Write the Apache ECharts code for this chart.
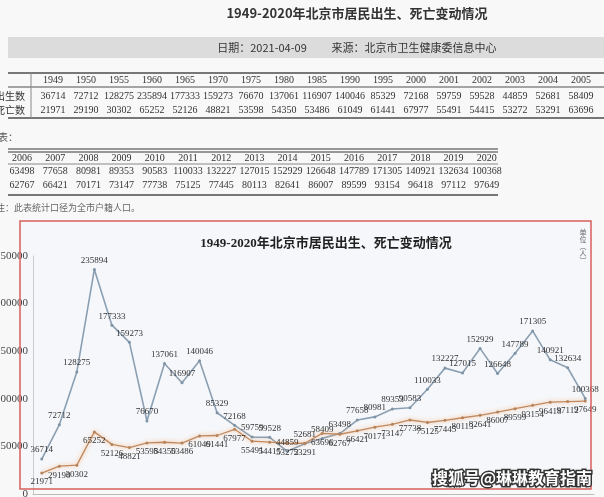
<!DOCTYPE html>
<html><head><meta charset="utf-8">
<script src="https://cdn.jsdelivr.net/npm/echarts@6/dist/echarts.min.js"></script>
<style>html,body{margin:0;padding:0;background:#f8f8f8}#c{width:604px;height:497px}</style>
</head><body><div id="c"></div>
<script>
const years = ['1949','1950','1955','1960','1965','1970','1975','1980','1985','1990','1995','2000',
  '2001','2002','2003','2004','2005','2006','2007','2008','2009','2010','2011','2012','2013','2014',
  '2015','2016','2017','2018','2019','2020'];
const births = [36714,72712,128275,235894,177333,159273,76670,137061,116907,140046,85329,72168,
  59759,59528,44859,52681,58409,63498,77658,80981,89353,90583,110033,132227,127015,152929,
  126648,147789,171305,140921,132634,100368];
const deaths = [21971,29190,30302,65252,52126,48821,53598,54350,53486,61049,61441,67977,
  55491,54415,53272,53291,63696,62767,66421,70171,73147,77738,75125,77445,80113,82641,
  86007,89599,93154,96418,97112,97649];
const yTicks = [0,50000,100000,150000,200000,250000];
const mainTitle = '1949-2020年北京市居民出生、死亡变动情况';
const dateText = '日期：2021-04-09';
const sourceText = '来源：北京市卫生健康委信息中心';
const rowLabels = ['出生数','死亡数'];
const contText = '续表：';
const noteText = '注：此表统计口径为全市户籍人口。';
const unitText = '单\n位\n︵\n人\n︶';
const watermark = '搜狐号@琳琳教育指南';
const split = 17;

const SERIF = '"Liberation Serif","Times New Roman","Noto Sans CJK SC",serif';
const SANS = '"Noto Sans CJK SC","Noto Sans",sans-serif';

function txt(text, x, y, font, fill, align, extra) {
  return Object.assign({
    type: 'text', x: x, y: y, silent: true,
    style: { text: text, font: font, fill: fill || '#333', align: align || 'center', textAlign: align || 'center',
      verticalAlign: 'middle', textVerticalAlign: 'middle' }
  }, extra || {});
}
function ln(x1, y1, x2, y2, c, w) {
  return { type: 'line', silent: true, shape: { x1, y1, x2, y2 }, style: { stroke: c || '#888', lineWidth: w || 1 } };
}

const g = [];
// header
g.push(txt(mainTitle, 357, 13, 'bold 13px ' + SANS, '#333'));
g.push({ type: 'rect', silent: true, shape: { x: 8, y: 37, width: 596, height: 21 }, style: { fill: '#dcdcdc' } });
g.push(txt(dateText, 262, 48, '11px ' + SANS, '#333'));
g.push(txt(sourceText, 414, 48, '11px ' + SANS, '#333'));
// table 1
g.push(ln(8, 73, 604, 73, '#777', 2));
g.push(ln(8, 87, 604, 87, '#888', 1.5));
g.push(ln(8, 118, 604, 118, '#777', 2));
g.push(ln(31, 73, 31, 118, '#888', 1));
g.push(txt(rowLabels[0], 25, 96, '10px ' + SANS, '#333', 'right'));
g.push(txt(rowLabels[1], 25, 110, '10px ' + SANS, '#333', 'right'));
for (let i = 0; i < split; i++) {
  const x = 53 + 33 * i;
  g.push(txt(years[i], x, 80, '10px ' + SERIF, '#333'));
  g.push(txt(String(births[i]), x, 96, '10px ' + SERIF, '#333'));
  g.push(txt(String(deaths[i]), x, 110, '10px ' + SERIF, '#333'));
}
// table 2
g.push(txt(contText, 18, 137, '10px ' + SANS, '#555', 'right'));
g.push(ln(8, 149, 498, 149, '#777', 1.5));
g.push(ln(8, 152, 498, 152, '#777', 1.5));
g.push(ln(8, 164, 498, 164, '#888', 1.2));
g.push(ln(8, 195, 498, 195, '#777', 2));
for (let i = split; i < years.length; i++) {
  const x = 22 + 33.2 * (i - split);
  g.push(txt(years[i], x, 158, '10px ' + SERIF, '#333'));
  g.push(txt(String(births[i]), x, 171, '10px ' + SERIF, '#333'));
  g.push(txt(String(deaths[i]), x, 185, '10px ' + SERIF, '#333'));
}
g.push(txt(noteText, 140, 208, '9px ' + SANS, '#666', 'right'));
// chart box
g.push({ type: 'rect', silent: true, z: -10, shape: { x: 20, y: 221, width: 571, height: 268 }, style: { fill: '#f6f7fa' } });
g.push({ type: 'rect', silent: true, z: 100, shape: { x: 20, y: 221, width: 571, height: 268 }, style: { fill: null, stroke: '#d6605c', lineWidth: 1.5 } });
g.push(txt(mainTitle, 326, 244, 'bold 13px ' + SERIF, '#222'));
g.push(txt(unitText, 583, 246, '7px ' + SANS, '#666', 'center', {}));
g.push({ type: 'text', silent: true, z: 110, x: 512, y: 478,
  style: { text: watermark, font: 'bold 16px ' + SANS, fill: '#fff', stroke: '#333', lineWidth: 3,
    align: 'center', textAlign: 'center', verticalAlign: 'middle', textVerticalAlign: 'middle' } });

const chart = echarts.init(document.getElementById('c'), null, { renderer: 'canvas' });
chart.setOption({
  animation: false,
  backgroundColor: 'transparent',
  grid: { left: 33, right: 10, top: 256, bottom: 3, containLabel: false, outerBoundsMode: 'none' },
  xAxis: {
    type: 'category', data: years, boundaryGap: true,
    axisLine: { lineStyle: { color: '#bbb' } }, axisTick: { show: false }, axisLabel: { show: false }
  },
  yAxis: {
    type: 'value', min: yTicks[0], max: yTicks[yTicks.length - 1], interval: 50000,
    axisLine: { show: true, lineStyle: { color: '#ccc' } }, axisTick: { show: false },
    splitLine: { show: false },
    axisLabel: { color: '#444', fontFamily: 'Liberation Serif', fontSize: 11, margin: 5, formatter: v => String(v) }
  },
  series: [
    {
      name: '出生数', type: 'line', data: births, symbol: 'circle', symbolSize: 3,
      itemStyle: { color: '#7d93a6' }, lineStyle: { color: '#8b9fb2', width: 1.6 },
      label: { show: true, position: 'top', distance: 3, color: '#333', fontFamily: 'Liberation Serif', fontSize: 9 }
    },
    {
      name: '死亡数', type: 'line', data: deaths, symbol: 'circle', symbolSize: 3,
      itemStyle: { color: '#b5825a' },
      lineStyle: { color: '#c08a60', width: 1.3, shadowColor: 'rgba(245,170,110,0.9)', shadowBlur: 4 },
      label: { show: true, position: 'bottom', distance: 3, color: '#333', fontFamily: 'Liberation Serif', fontSize: 9 }
    }
  ],
  graphic: { elements: g }
});
</script></body></html>
